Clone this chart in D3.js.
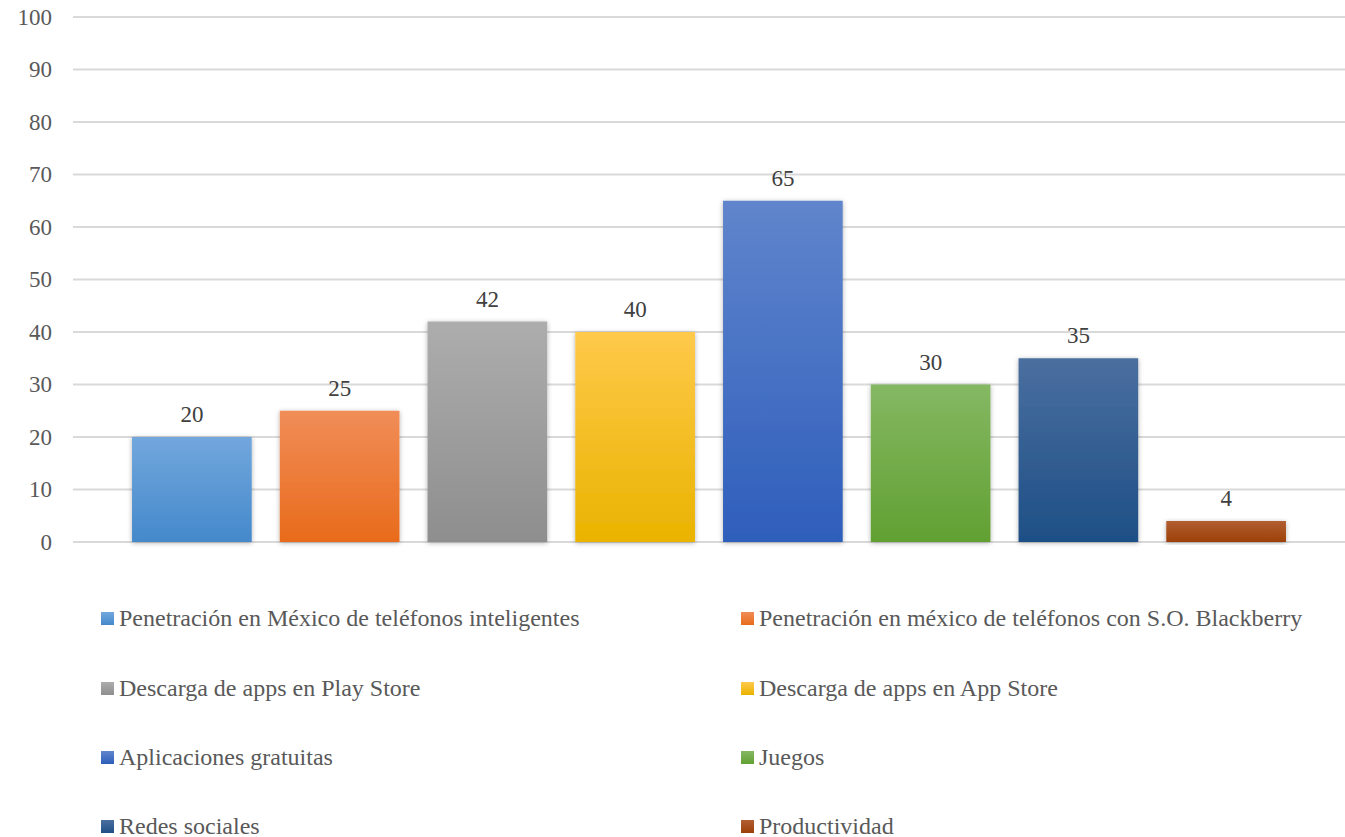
<!DOCTYPE html>
<html>
<head>
<meta charset="utf-8">
<script src="https://cdnjs.cloudflare.com/ajax/libs/d3/7.8.5/d3.min.js"></script>
<style>
  body { margin: 0; background: #fff; }
</style>
</head>
<body>
<div id="chart"></div>
<script>
// chart data
var categories = [
  "Penetración en México de teléfonos inteligentes",
  "Penetración en méxico de teléfonos con S.O. Blackberry",
  "Descarga de apps en Play Store",
  "Descarga de apps en App Store",
  "Aplicaciones gratuitas",
  "Juegos",
  "Redes sociales",
  "Productividad"
];
var values = [20, 25, 42, 40, 65, 30, 35, 4];
var yTicks = [0, 10, 20, 30, 40, 50, 60, 70, 80, 90, 100];

// top / bottom gradient colours per bar
var topColors = ["#72a7dd", "#f18d58", "#adadad", "#ffc94b", "#6085cc", "#85b863", "#4a6f9f", "#b15e32"];
var botColors = ["#4489cb", "#e86b1b", "#8e8e8e", "#e9b300", "#2e5ebb", "#61a032", "#1e4f86", "#9d4008"];

var FONT = "'Liberation Serif', 'DejaVu Serif', serif";

var width = 1345, height = 837;
var plotLeft = 73, plotRight = 1345, plotTop = 17, plotBottom = 542;

var svg = d3.select("#chart")
  .append("svg")
  .attr("width", width)
  .attr("height", height)
  .attr("font-family", FONT);

var defs = svg.append("defs");

categories.forEach(function(c, i) {
  var g = defs.append("linearGradient")
    .attr("id", "grad" + i)
    .attr("x1", 0).attr("y1", 0).attr("x2", 0).attr("y2", 1);
  g.append("stop").attr("offset", "0%").attr("stop-color", topColors[i]);
  g.append("stop").attr("offset", "100%").attr("stop-color", botColors[i]);
});

var shadow = defs.append("filter")
  .attr("id", "shadow")
  .attr("x", "-10%").attr("y", "-10%").attr("width", "120%").attr("height", "120%");
shadow.append("feDropShadow")
  .attr("dx", 0).attr("dy", 1)
  .attr("stdDeviation", 2.5)
  .attr("flood-color", "#000")
  .attr("flood-opacity", 0.3);

var y = d3.scaleLinear()
  .domain([0, 100])
  .range([plotBottom, plotTop]);

var x = d3.scaleBand()
  .domain(categories)
  .range([118, 1300])
  .paddingInner(0.19)
  .paddingOuter(0.095);

// gridlines
svg.append("g")
  .attr("class", "grid")
  .selectAll("line")
  .data(yTicks)
  .enter().append("line")
  .attr("x1", plotLeft)
  .attr("x2", plotRight)
  .attr("y1", function(d) { return y(d); })
  .attr("y2", function(d) { return y(d); })
  .style("stroke", "#d9d9d9")
  .style("stroke-width", 2);

// y axis
var yAxis = d3.axisLeft(y)
  .tickValues(yTicks)
  .tickSize(0)
  .tickPadding(21);

var ya = svg.append("g")
  .attr("transform", "translate(" + plotLeft + ",0)")
  .call(yAxis);
ya.attr("font-family", FONT);
ya.select(".domain").remove();
ya.selectAll("text")
  .style("font-family", FONT)
  .style("font-size", "23px")
  .style("fill", "#595959");

// bars
svg.append("g")
  .attr("class", "bars")
  .selectAll("rect")
  .data(values)
  .enter().append("rect")
  .attr("x", function(d, i) { return x(categories[i]); })
  .attr("y", function(d) { return y(d); })
  .attr("width", x.bandwidth())
  .attr("height", function(d) { return y(0) - y(d); })
  .attr("fill", function(d, i) { return "url(#grad" + i + ")"; })
  .attr("filter", "url(#shadow)");

// value labels
svg.append("g")
  .attr("class", "labels")
  .selectAll("text")
  .data(values)
  .enter().append("text")
  .attr("x", function(d, i) { return x(categories[i]) + x.bandwidth() / 2; })
  .attr("y", function(d) { return y(d) - 15; })
  .attr("text-anchor", "middle")
  .style("font-family", FONT)
  .style("font-size", "23px")
  .style("fill", "#404040")
  .text(function(d) { return d; });

// legend
var legendCols = [101, 741];
var legendRows = [618, 688, 757, 826];

var legend = svg.append("g")
  .attr("class", "legend")
  .selectAll("g")
  .data(categories)
  .enter().append("g")
  .attr("transform", function(d, i) {
    return "translate(" + legendCols[i % 2] + "," + legendRows[Math.floor(i / 2)] + ")";
  });

legend.append("rect")
  .attr("x", 0)
  .attr("y", -6)
  .attr("width", 13)
  .attr("height", 13)
  .attr("fill", function(d, i) { return "url(#grad" + i + ")"; });

legend.append("text")
  .attr("x", 18)
  .attr("y", 8)
  .style("font-family", FONT)
  .style("font-size", "24px")
  .style("fill", "#595959")
  .text(function(d) { return d; });
</script>
</body>
</html>
